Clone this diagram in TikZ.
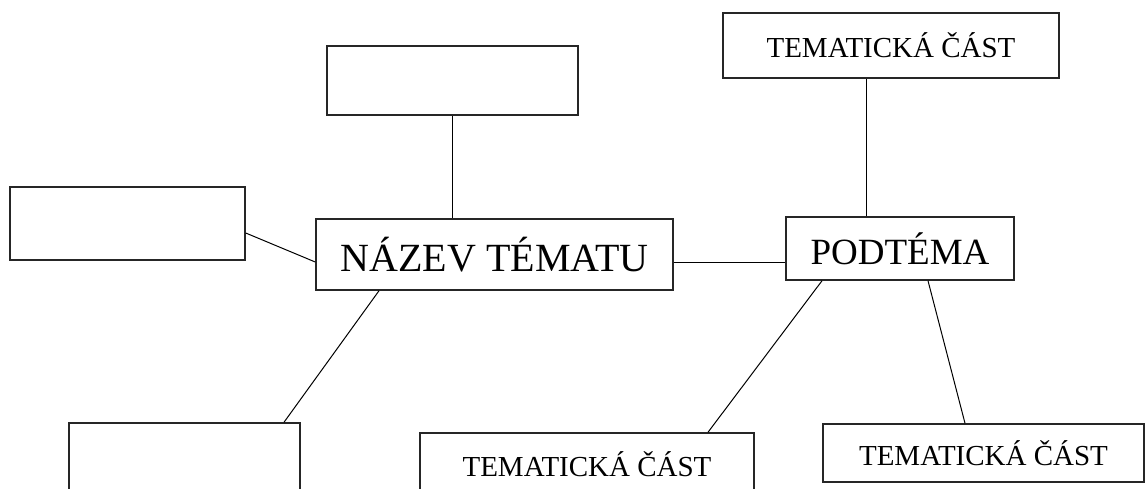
\documentclass[tikz,border=0pt]{standalone}
\usepackage{fontspec}
\setmainfont{Liberation Serif}
\usetikzlibrary{calc}

\begin{document}
\begin{tikzpicture}
            [x=0.5pt,y=-0.5pt,every node/.style={draw,line width=0.75pt,inner sep=0pt,draw=black!85},
             small/.style={font=\fontsize{14.5}{17}\selectfont},
             big/.style={font=\fontsize{20}{24}\selectfont}]
            \useasboundingbox (0,0) rectangle (1146,488);
            \node[minimum width=125.5pt,minimum height=34.5pt] (t) at (452.5, 80.5) {};
            \node[minimum width=117.5pt,minimum height=36.5pt] (l) at (127.5, 223.5) {};
            \node[minimum width=115.5pt,minimum height=36pt] (b) at (184.5, 459) {};
            \node[big,minimum width=178.5pt,minimum height=35.5pt] (n) at (494.5, 254.5) {NÁZEV TÉMATU\hspace{5pt}};
            \node[big,font=\fontsize{18.5}{22}\selectfont,minimum width=114pt,minimum height=31.5pt] (p) at (900, 248.5) {PODTÉMA\hspace{5pt}};
            \node[small,minimum width=168pt,minimum height=32.5pt] (c1) at (891, 45.5) {TEMATICKÁ ČÁST};
            \node[small,minimum width=167pt,minimum height=31pt] (c2) at (587, 464) {TEMATICKÁ ČÁST};
            \node[small,minimum width=160.5pt,minimum height=29pt] (c3) at (983.5, 453) {TEMATICKÁ ČÁST};
            \draw[line width=0.5pt] (t.south) -- (t.south |- n.north);
            \draw[line width=0.5pt] ($(l.east)+(0,9.5)$) -- ($(n.west)+(0,7.5)$);
            \draw[line width=0.5pt] ($(n.south)+(-115.5,0)$) -- ($(b.north)+(99.5,0)$);
            \draw[line width=0.5pt] ($(n.east)+(0,7.5)$) -- ($(p.west)+(0,13.5)$);
            \draw[line width=0.5pt] ($(p.north)+(-34,0)$) -- ($(c1.south)+(-25,0)$);
            \draw[line width=0.5pt] ($(p.south)+(-78,0)$) -- ($(c2.north)+(121,0)$);
            \draw[line width=0.5pt] ($(p.south)+(28,0)$) -- ($(c3.north)+(-18.5,0)$);

        \end{tikzpicture}
\end{document}
